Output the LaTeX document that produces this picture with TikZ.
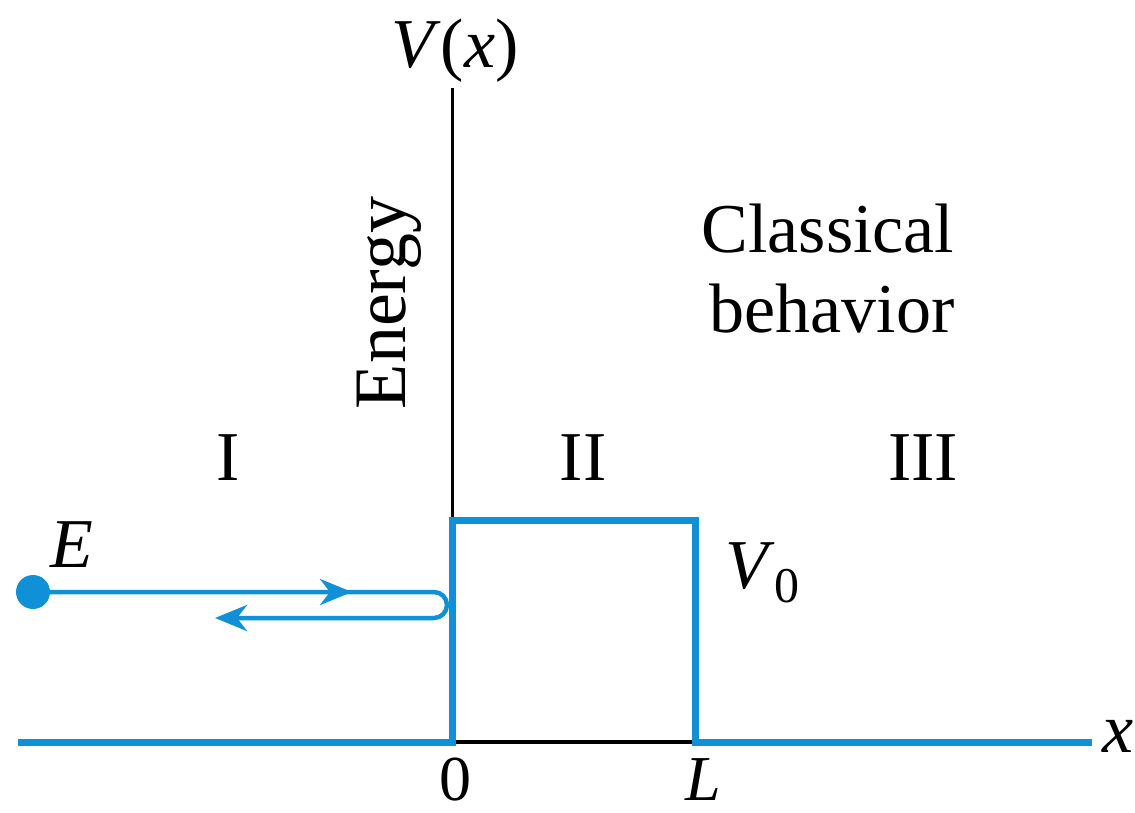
\documentclass[tikz,border=0pt]{standalone}
\usepackage{fontspec}
\setmainfont{Liberation Serif}
\usetikzlibrary{arrows.meta}
\definecolor{qblue}{RGB}{16,144,214}
\begin{document}
\begin{tikzpicture}[x=1pt,y=-1pt,
  lbl/.style={font=\fontsize{70}{80}\selectfont, inner sep=0pt},
  potential/.style={draw=qblue, line width=7pt, line join=miter},
  axisline/.style={draw=black, line width=3pt},
  flow/.style={draw=qblue, line width=4.5pt},
  tip/.style={-{Stealth[length=32pt,width=26pt,inset=10pt]}}]
\useasboundingbox (0,0) rectangle (1135,813);
% coordinates
\coordinate (xl) at (18,742);
\coordinate (O) at (452,742);
\coordinate (Otop) at (452,520);
\coordinate (Ltop) at (695,520);
\coordinate (L) at (695,742);
\coordinate (xr) at (1092,742);
\coordinate (Atop) at (452,88);
\coordinate (turnA) at (434,592);
\coordinate (back) at (215,618);
\coordinate (fwdtip) at (352,592);
% axes
\draw[axisline] (Otop) -- (Atop);
\draw[draw=black, line width=3.5pt] (O) -- (L);
% potential
\draw[potential] (xl) -- (O) -- (Otop) -- (Ltop) -- (L) -- (xr);
% particle
\node[circle, fill=qblue, minimum size=34pt, inner sep=0pt] (dot) at (33,592) {};
\draw[flow, tip] (dot.center) -- (turnA) arc[start angle=-90, end angle=90, radius=13] -- (back);
\draw[flow, tip] (dot.center) -- (fwdtip);
% labels
\node[lbl, anchor=base] (Vx) at (455,68) {\textit{V}(\textit{x})};
\node[lbl, anchor=base, rotate=90, font=\fontsize{74}{80}\selectfont] (energy) at (405,303) {Energy};
\node[lbl, anchor=base] (cl1) at (828,252) {Classical};
\node[lbl, anchor=base] (cl2) at (832,332) {behavior};
\node[lbl, anchor=base] (r1) at (228,480) {I};
\node[lbl, anchor=base] (r2) at (583,480) {II};
\node[lbl, anchor=base] (r3) at (923,480) {III};
\node[lbl, anchor=base] (Elbl) at (72,567) {\textit{E}};
\node[lbl, anchor=base west] (V0) at (725,588) {\textit{V}\raisebox{-0.2em}{\fontsize{50}{55}\selectfont 0}};
\node[lbl, anchor=base west] (xlbl) at (1102,752) {\textit{x}};
\node[lbl, anchor=base, font=\fontsize{64}{70}\selectfont] (zero) at (455,800) {0};
\node[lbl, anchor=base, font=\fontsize{64}{70}\selectfont] (Llbl) at (703,800) {\textit{L}};
\end{tikzpicture}
\end{document}
